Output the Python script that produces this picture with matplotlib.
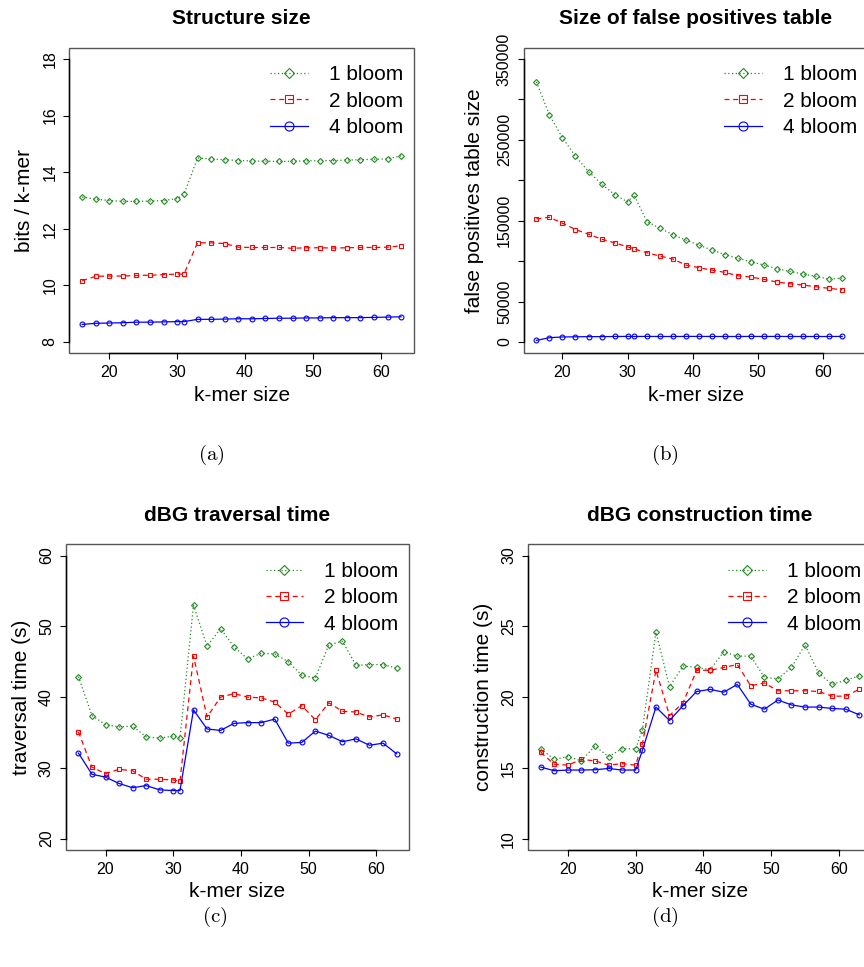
import matplotlib
matplotlib.use("Agg")
import matplotlib.pyplot as plt
from matplotlib.lines import Line2D
from matplotlib.patches import Rectangle

plt.rcParams['font.family'] = ['Liberation Sans', 'DejaVu Sans']
plt.rcParams['mathtext.fontset'] = 'cm'

# tamanhos de k-mer
kmer = [16, 18, 20, 22, 24, 26, 28, 30, 31, 33, 35, 37, 39, 41, 43, 45,
        47, 49, 51, 53, 55, 57, 59, 61, 63]

series_names = ["1 bloom", "2 bloom", "4 bloom"]

# (a) bits / k-mer
struct_1 = [13.12, 13.05, 13.00, 12.97, 12.97, 12.98, 13.00, 13.07, 13.22, 14.50,
            14.47, 14.44, 14.41, 14.40, 14.39, 14.38, 14.39, 14.40, 14.41, 14.41,
            14.43, 14.44, 14.46, 14.47, 14.58]
struct_2 = [10.17, 10.32, 10.33, 10.33, 10.35, 10.36, 10.38, 10.40, 10.40, 11.51,
            11.50, 11.48, 11.35, 11.34, 11.34, 11.34, 11.31, 11.33, 11.33, 11.32,
            11.33, 11.34, 11.34, 11.35, 11.40]
struct_4 = [8.62, 8.66, 8.67, 8.68, 8.70, 8.70, 8.71, 8.72, 8.72, 8.80,
            8.80, 8.81, 8.82, 8.82, 8.83, 8.84, 8.84, 8.85, 8.85, 8.86,
            8.86, 8.86, 8.87, 8.88, 8.89]

# (b) tamanho da tabela de falsos positivos
fp_1 = [321800, 280600, 252700, 229600, 210700, 195500, 182300, 173300, 181900, 148600,
        140700, 132500, 125900, 119800, 113600, 108200, 103300, 99200, 95100, 90500,
        87200, 84000, 81100, 77800, 79000]
fp_2 = [152300, 154300, 146900, 139100, 133300, 127200, 122600, 117700, 115200, 110300,
        106200, 102500, 95100, 91800, 88900, 86000, 81900, 80200, 77400, 74100,
        72000, 70400, 68300, 66300, 64600]
fp_4 = [2000, 5300, 6200, 6400, 6600, 6600, 6800, 6900, 6800, 6900,
        6800, 6800, 6900, 6900, 6800, 6800, 6800, 6900, 6800, 6900,
        6800, 6800, 6800, 6800, 6900]

# (c) tempo de percurso
trav_1 = [42.9, 37.4, 36.1, 35.8, 35.9, 34.4, 34.2, 34.5, 34.2, 53.0,
          47.2, 49.7, 47.1, 45.4, 46.2, 46.1, 45.0, 43.1, 42.7, 47.4,
          47.9, 44.5, 44.6, 44.6, 44.1]
trav_2 = [35.1, 30.1, 29.2, 29.8, 29.6, 28.4, 28.4, 28.3, 28.1, 45.8,
          37.2, 40.0, 40.5, 40.0, 39.9, 39.3, 37.6, 38.8, 36.8, 39.2,
          38.0, 37.9, 37.2, 37.5, 36.9]
trav_4 = [32.1, 29.1, 28.7, 27.8, 27.2, 27.5, 26.9, 26.8, 26.8, 38.2,
          35.5, 35.3, 36.3, 36.4, 36.4, 36.9, 33.5, 33.6, 35.2, 34.6,
          33.7, 34.1, 33.2, 33.5, 32.0]

# (d) tempo de construcao
cons_1 = [16.35, 15.6, 15.8, 15.5, 16.55, 15.8, 16.35, 16.35, 17.7, 24.6,
          20.75, 22.2, 22.1, 21.95, 23.2, 22.9, 22.9, 21.4, 21.3, 22.1,
          23.7, 21.7, 20.9, 21.2, 21.5]
cons_2 = [16.1, 15.25, 15.2, 15.6, 15.5, 15.2, 15.3, 15.2, 16.7, 21.9,
          18.7, 19.6, 21.9, 21.9, 22.1, 22.3, 20.8, 21.0, 20.45, 20.45,
          20.45, 20.4, 20.07, 20.07, 20.56]
cons_4 = [15.06, 14.8, 14.85, 14.85, 14.87, 14.96, 14.85, 14.85, 16.24, 19.3,
          18.35, 19.4, 20.4, 20.55, 20.35, 20.9, 19.5, 19.15, 19.8, 19.45,
          19.3, 19.3, 19.2, 19.15, 18.75]

cores = ['forestgreen', 'red', 'blue']
estilos = [(0, (1, 2)), (0, (4, 3)), '-']
marcadores = ['D', 's', 'o']
tam_marc = [3.0, 3.3, 3.5]
tam_marc_leg = [5.5, 5.5, 6.5]

W, H = 864, 967
fig = plt.figure(figsize=(W / 100, H / 100), dpi=100)


def painel(pos_px, titulo, ylabel, series, yticks, ylim, xlim, ylabels=None, ylabelpad=6):
    x0, y0, x1, y1 = pos_px
    ax = fig.add_axes([x0 / W, 1 - y1 / H, (x1 - x0) / W, (y1 - y0) / H])

    for ys, c, ls, m, ms in zip(series, cores, estilos, marcadores, tam_marc):
        ax.plot(kmer, ys, color=c, ls=ls, lw=0.9, marker=m, ms=ms,
                mfc='none', mec=c, mew=0.8)

    xticks = [20, 30, 40, 50, 60]
    ax.set_xticks(xticks)
    ax.set_yticks(yticks)
    if ylabels is not None:
        ax.set_yticklabels(ylabels)
    ax.set_xlim(xlim)
    ax.set_ylim(ylim)

    # caixa cinza + eixos pretos (estilo R)
    for s in ['top', 'right']:
        ax.spines[s].set_visible(False)
    ax.add_patch(Rectangle((0, 0), 1, 1, transform=ax.transAxes, fill=False,
                           edgecolor='#555555', lw=1.0, clip_on=False, zorder=1))
    ax.spines['left'].set_bounds(yticks[0], yticks[-1])
    ax.spines['bottom'].set_bounds(xticks[0], xticks[-1])
    for s in ['left', 'bottom']:
        ax.spines[s].set_color('black')
        ax.spines[s].set_linewidth(1.0)
        ax.spines[s].set_zorder(3)

    ax.tick_params(direction='out', length=4.5, width=0.8, labelsize=11.5, pad=4)
    ax.tick_params(axis='y', labelrotation=90)
    plt.setp(ax.get_yticklabels(), va='center')

    ax.set_title(titulo, fontsize=15, fontweight='bold', pad=17)
    ax.set_xlabel("k-mer size", fontsize=15, labelpad=4)
    ax.set_ylabel(ylabel, fontsize=15, labelpad=ylabelpad)

    handles = [Line2D([], [], color=c, ls=ls, lw=0.9, marker=m, ms=ms,
                      mfc='none', mec=c, mew=0.8)
               for c, ls, m, ms in zip(cores, estilos, marcadores, tam_marc_leg)]
    ax.legend(handles, series_names, loc='upper right', frameon=False,
              bbox_to_anchor=(0.968, 0.942), borderpad=0, borderaxespad=0,
              fontsize=15, handlelength=1.8, handletextpad=1.0, labelspacing=0.35)
    return ax


painel((69.3, 47.7, 414, 353.3), "Structure size", "bits / k-mer",
       [struct_1, struct_2, struct_4], [8, 10, 12, 14, 16, 18], (7.6, 18.4),
       (14.1, 64.9))

fp_ticks = [0, 50000, 100000, 150000, 200000, 250000, 300000, 350000]
fp_labels = ["0", "50000", "", "150000", "", "250000", "", "350000"]
painel((523.7, 47.7, 868, 353.3), "Size of false positives table",
       "false positives table size", [fp_1, fp_2, fp_4], fp_ticks,
       (-14000, 364000), (14.04, 66.96), ylabels=fp_labels, ylabelpad=9)

painel((65.7, 544.3, 409.3, 850), "dBG traversal time", "traversal time (s)",
       [trav_1, trav_2, trav_4], [20, 30, 40, 50, 60], (18.4, 61.6),
       (14.12, 64.88))

painel((528, 544.3, 872, 850), "dBG construction time", "construction time (s)",
       [cons_1, cons_2, cons_4], [10, 15, 20, 25, 30], (9.2, 30.8),
       (14.12, 64.88))

# legendas das subfiguras
for txt, x, y in [("(a)", 211, 455), ("(b)", 665, 455), ("(c)", 215, 917), ("(d)", 665, 917)]:
    fig.text(x / W, 1 - y / H, r"$\mathrm{" + txt + "}$", fontsize=15,
             ha='center', va='center')

fig.savefig("out.png", dpi=100)
